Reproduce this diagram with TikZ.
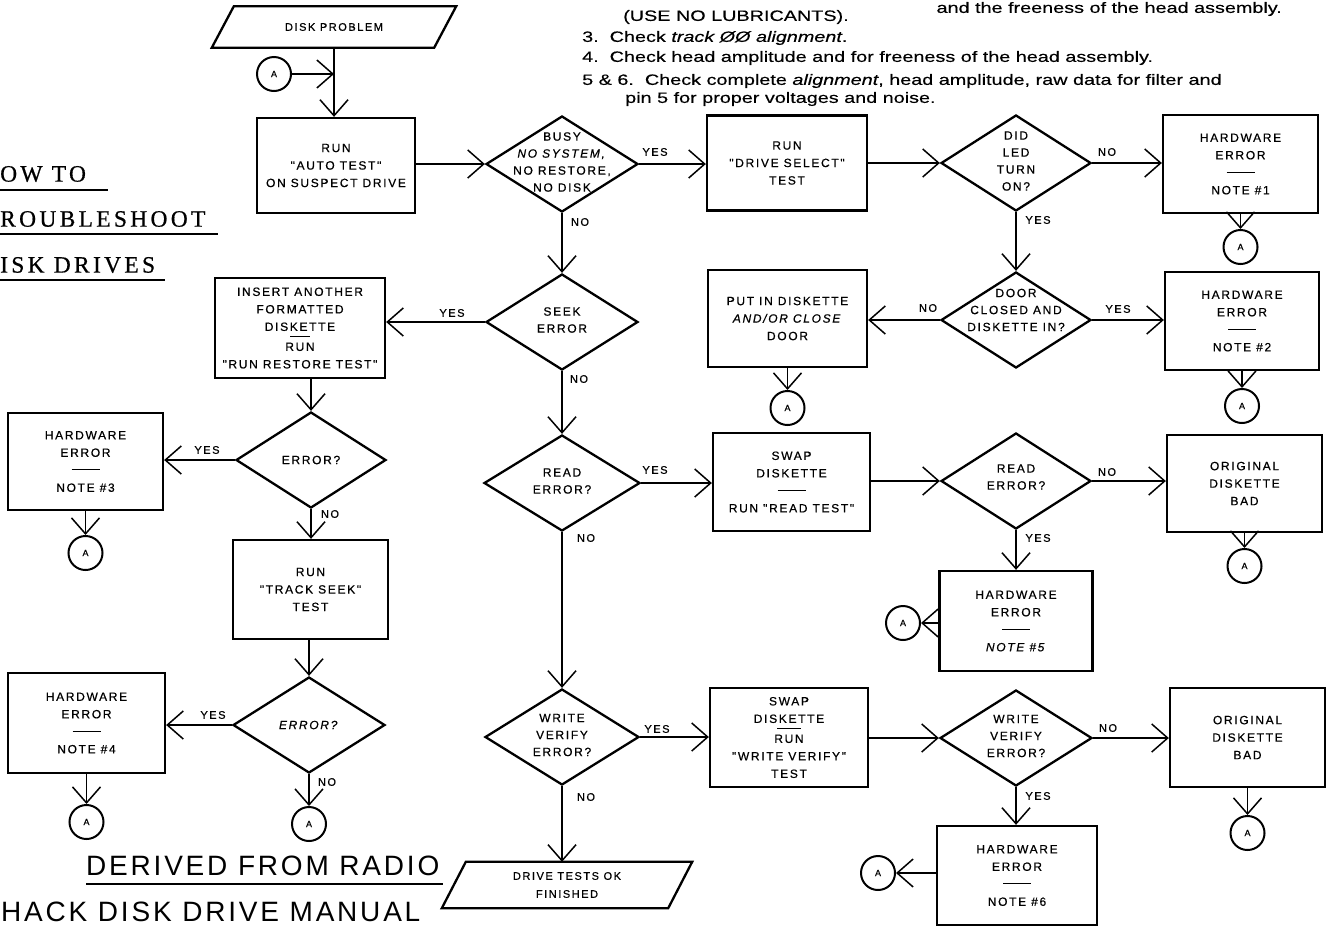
\documentclass[tikz,border=0pt]{standalone}
\usepackage{fontspec}
\setmainfont{Liberation Sans}
\newfontfamily\boxfont[LetterSpace=14,FakeBold=0.6]{Liberation Sans}
\newfontfamily\notefont[FakeStretch=1.32,FakeBold=0.3]{Liberation Sans}
\newfontfamily\titlefont[LetterSpace=14,FakeBold=0.6]{Liberation Serif}
\newfontfamily\bigfont[LetterSpace=10]{Liberation Sans}
\usetikzlibrary{shapes.geometric,arrows.meta}
\newcommand{\hr}{\rule[4pt]{28pt}{0.9pt}}
\begin{document}
\begin{tikzpicture}[x=1pt,y=-1pt,line join=miter,
 bx/.style={draw, line width=2.3pt, inner sep=0pt, align=center, font=\boxfont\fontsize{12}{17.5}\selectfont},
 dia/.style={diamond, draw, line width=2.3pt, inner sep=0pt, minimum width=152pt, minimum height=96pt},
 dtext/.style={align=center, inner sep=0pt, font=\boxfont\fontsize{12}{17}\selectfont},
 lbl/.style={inner sep=0pt, font=\boxfont\fontsize{11}{12}\selectfont},
 acirc/.style={circle, draw, line width=2pt, minimum size=34pt, inner sep=0pt, font=\boxfont\fontsize{9}{9}\selectfont},
 arr/.style={line width=1.5pt, -{Straight Barb[length=16pt,width=28pt]}},
 note/.style={anchor=west, inner sep=0pt, font=\notefont\fontsize{15}{16}\selectfont},
 ttl/.style={anchor=west, inner sep=0pt, font=\titlefont\fontsize{23.5}{24}\selectfont},
 big/.style={anchor=west, inner sep=0pt, font=\bigfont\fontsize{28}{28}\selectfont},
]
\useasboundingbox (0,0) rectangle (1329,927);
\clip (0,0) rectangle (1329,927);
\fill[white] (0,0) rectangle (1329,927);

% ---- notes at top ----
\node[anchor=east, inner sep=0pt, font=\notefont\fontsize{15}{16}\selectfont] (n0) at (1282,9) {and the freeness of the head assembly.};
\node[note] (n1) at (623,17) {(USE NO LUBRICANTS).};
\node[note] (n2) at (582,38) {3.\ \ Check \textit{track ØØ alignment}.};
\node[note] (n3) at (582,58) {4.\ \ Check head amplitude and for freeness of the head assembly.};
\node[note] (n4) at (582,81) {5 \& 6.\ \ Check complete \textit{alignment}, head amplitude, raw data for filter and};
\node[note] (n5) at (625,99) {pin 5 for proper voltages and noise.};

% ---- titles ----
\node[ttl] (t1) at (0,174) {OW TO};
\draw[line width=1.3pt] (0,190) -- (108,190);
\node[ttl] (t2) at (0,219) {ROUBLESHOOT};
\draw[line width=1.3pt] (0,234) -- (218,234);
\node[ttl] (t3) at (0,265) {ISK DRIVES};
\draw[line width=1.3pt] (0,280) -- (165,280);
\node[big] (t4) at (86,866) {DERIVED FROM RADIO};
\draw[line width=1.3pt] (86,884) -- (443,884);
\node[big] (t5) at (1,912) {HACK DISK DRIVE MANUAL};

% ---- start ----
\node[minimum width=222pt, minimum height=41pt, inner sep=0pt, font=\boxfont\fontsize{11}{12}\selectfont] (dp) at (334,27) {DISK PROBLEM};
\draw[line width=2.3pt] ([xshift=-11pt]dp.south west) -- ([xshift=11pt]dp.north west) -- ([xshift=11pt]dp.north east) -- ([xshift=-11pt]dp.south east) -- cycle;
\node[acirc] (a0) at (274,74) {A};
\coordinate (j0) at (dp.south |- a0.east);

\node[bx, minimum width=158pt, minimum height=95pt] (autotest) at (336,165.5) {RUN\\"AUTO TEST"\\ON SUSPECT DRIVE};

% ---- row 1 ----
\node[dia] (busy) at (562,164) {};
\node[dtext] (busyT) at ([yshift=2pt]busy.center) {BUSY\\\textit{NO SYSTEM,}\\NO RESTORE,\\NO DISK};
\node[bx, minimum width=160pt, minimum height=95pt] (drvsel) at (787,163) {RUN\\"DRIVE SELECT"\\TEST};
\node[dia, minimum width=150pt] (didled) at (1016,163) {};
\node[dtext] (didledT) at ([yshift=2pt]didled.center) {DID\\LED\\TURN\\ON?};
\node[bx, minimum width=155pt, minimum height=98pt] (hw1) at (1240.5,164) {HARDWARE\\ERROR\\\hr\\NOTE \#1};
\node[acirc] (a1) at (1240.5,247) {A};

% ---- row 2 ----
\node[dia] (seek) at (562,322) {};
\node[dtext] (seekT) at ([yshift=2pt]seek.center) {SEEK\\ERROR};
\node[bx, minimum width=170pt, minimum height=100pt] (insert) at (300,328) {INSERT ANOTHER\\FORMATTED\\DISKETTE\\[-7.5pt]\rule[4pt]{20pt}{0.9pt}\\[-7.5pt]RUN\\"RUN RESTORE TEST"};
\node[bx, minimum width=159pt, minimum height=97pt] (putin) at (787.5,318.5) {PUT IN DISKETTE\\\textit{AND/OR CLOSE}\\DOOR};
\node[dia, minimum width=150pt] (door) at (1016,320) {};
\node[dtext] (doorT) at ([yshift=10pt]door.center) {DOOR\\CLOSED AND\\DISKETTE IN?};
\node[bx, minimum width=154pt, minimum height=98pt] (hw2) at (1242,321) {HARDWARE\\ERROR\\\hr\\NOTE \#2};
\node[acirc] (a2) at (1242,406) {A};
\node[acirc] (a3) at (787.5,408) {A};

% ---- left column ----
\node[dia, minimum width=150pt] (err1) at (311,460) {};
\node[dtext] (err1T) at (err1.center) {ERROR?};
\node[bx, minimum width=155pt, minimum height=97pt] (hw3) at (85.5,461.5) {HARDWARE\\ERROR\\\hr\\NOTE \#3};
\node[acirc] (a4) at (85.5,553) {A};
\node[bx, minimum width=155pt, minimum height=99pt] (trackseek) at (310.5,589.5) {RUN\\"TRACK SEEK"\\TEST};
\node[dia] (err2) at (309,725) {};
\node[dtext] (err2T) at (err2.center) {\textit{ERROR?}};
\node[bx, minimum width=157pt, minimum height=100pt] (hw4) at (86.5,723) {HARDWARE\\ERROR\\\hr\\NOTE \#4};
\node[acirc] (a5) at (86.5,822) {A};
\node[acirc] (a6) at (309,824) {A};

% ---- row 3 ----
\node[dia, minimum width=156pt] (read) at (562,483) {};
\node[dtext] (readT) at ([yshift=2pt]read.center) {READ\\ERROR?};
\node[bx, minimum width=157pt, minimum height=98pt] (swap1) at (791.5,482) {SWAP\\DISKETTE\\\hr\\RUN "READ TEST"};
\node[dia, minimum width=150pt] (read2) at (1016,481) {};
\node[dtext] (read2T) at ([yshift=4pt]read2.center) {READ\\ERROR?};
\node[bx, minimum width=155pt, minimum height=97pt] (orig1) at (1244.5,483.5) {ORIGINAL\\DISKETTE\\BAD};
\node[acirc] (a7) at (1244.5,566) {A};
\node[bx, minimum width=153pt, minimum height=100pt] (hw5) at (1016,621) {HARDWARE\\ERROR\\\hr\\\textit{NOTE \#5}};
\node[acirc] (a8) at (903,623) {A};

% ---- row 4 ----
\node[dia, minimum width=154pt] (write) at (562,737) {};
\node[dtext] (writeT) at ([yshift=2pt]write.center) {WRITE\\VERIFY\\ERROR?};
\node[bx, minimum width=158pt, minimum height=99pt] (swap2) at (789,737.5) {SWAP\\DISKETTE\\[-7.5pt]\rule[4pt]{24pt}{0.9pt}\\[-7.5pt]RUN\\"WRITE VERIFY"\\TEST};
\node[dia, minimum width=152pt] (write2) at (1016,738) {};
\node[dtext] (write2T) at ([yshift=2pt]write2.center) {WRITE\\VERIFY\\ERROR?};
\node[bx, minimum width=155pt, minimum height=99pt] (orig2) at (1247.5,737.5) {ORIGINAL\\DISKETTE\\BAD};
\node[acirc] (a9) at (1247.5,833) {A};
\node[bx, minimum width=160pt, minimum height=99pt] (hw6) at (1017,875.5) {HARDWARE\\ERROR\\\hr\\NOTE \#6};
\node[acirc] (a10) at (878,873) {A};

\node[minimum width=226pt, minimum height=46pt, inner sep=0pt, align=center, font=\boxfont\fontsize{11}{18}\selectfont] (dto) at (567,885) {DRIVE TESTS OK\\FINISHED};
\draw[line width=2.3pt] ([xshift=-12pt]dto.south west) -- ([xshift=12pt]dto.north west) -- ([xshift=12pt]dto.north east) -- ([xshift=-12pt]dto.south east) -- cycle;

% ---- labels ----
\node[lbl] (l1) at (655,152) {YES};
\node[lbl] (l2) at (580,222) {NO};
\node[lbl] (l3) at (1107,152) {NO};
\node[lbl] (l4) at (1038,220) {YES};
\node[lbl] (l5) at (928,308) {NO};
\node[lbl] (l6) at (1118,309) {YES};
\node[lbl] (l7) at (452,313) {YES};
\node[lbl] (l8) at (579,379) {NO};
\node[lbl] (l9) at (207,450) {YES};
\node[lbl] (l10) at (330,514) {NO};
\node[lbl] (l11) at (213,715) {YES};
\node[lbl] (l12) at (327,782) {NO};
\node[lbl] (l13) at (655,470) {YES};
\node[lbl] (l14) at (586,538) {NO};
\node[lbl] (l15) at (1107,472) {NO};
\node[lbl] (l16) at (1038,538) {YES};
\node[lbl] (l17) at (657,729) {YES};
\node[lbl] (l18) at (586,797) {NO};
\node[lbl] (l19) at (1108,728) {NO};
\node[lbl] (l20) at (1038,796) {YES};

% ---- connectors ----
\draw[arr] (dp.south) -- (dp.south |- autotest.north);
\draw[arr] (a0.east) -- (j0);
\draw[arr] (autotest.east |- busy.west) -- (busy.west);
\draw[arr] (busy.east) -- (busy.east -| drvsel.west);
\draw[arr] (drvsel.east |- didled.west) -- (didled.west);
\draw[arr] (didled.east) -- (didled.east -| hw1.west);
\draw[arr] (hw1.south) -- (a1.north);
\draw[arr] (didled.south) -- (door.north);
\draw[arr] (door.west) -- (door.west -| putin.east);
\draw[arr] (door.east) -- (door.east -| hw2.west);
\draw[arr] (hw2.south) -- (a2.north);
\draw[arr] (putin.south) -- (a3.north);
\draw[arr] (busy.south) -- (seek.north);
\draw[arr] (seek.west) -- (seek.west -| insert.east);
\draw[arr] (err1.north |- insert.south) -- (err1.north);
\draw[arr] (err1.west) -- (err1.west -| hw3.east);
\draw[arr] (hw3.south) -- (a4.north);
\draw[arr] (err1.south) -- (err1.south |- trackseek.north);
\draw[arr] (err2.north |- trackseek.south) -- (err2.north);
\draw[arr] (err2.west) -- (err2.west -| hw4.east);
\draw[arr] (hw4.south) -- (a5.north);
\draw[arr] (err2.south) -- (a6.north);
\draw[arr] (seek.south) -- (read.north);
\draw[arr] (read.east) -- (read.east -| swap1.west);
\draw[arr] (swap1.east |- read2.west) -- (read2.west);
\draw[arr] (read2.east) -- (read2.east -| orig1.west);
\draw[arr] (orig1.south) -- (a7.north);
\draw[arr] (read2.south) -- (hw5.north);
\draw[arr] (hw5.west |- a8.east) -- (a8.east);
\draw[arr] (read.south) -- (write.north);
\draw[arr] (write.east) -- (write.east -| swap2.west);
\draw[arr] (swap2.east |- write2.west) -- (write2.west);
\draw[arr] (write2.east) -- (write2.east -| orig2.west);
\draw[arr] (orig2.south) -- (a9.north);
\draw[arr] (write2.south) -- (write2.south |- hw6.north);
\draw[arr] (hw6.west |- a10.east) -- (a10.east);
\draw[arr] (write.south) -- (write.south |- dto.north);
\end{tikzpicture}
\end{document}
